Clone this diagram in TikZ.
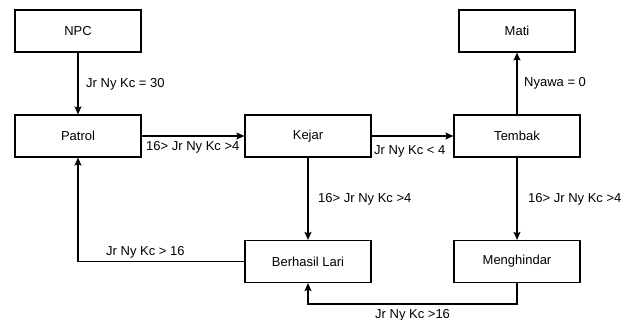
\documentclass[tikz,border=0pt]{standalone}
\usepackage{fontspec}
\setmainfont{Liberation Sans}
\usetikzlibrary{arrows.meta}
\tikzset{
  keadaan/.style={draw, line width=1.2pt, minimum width=126pt, minimum height=42pt, inner sep=0pt, font=\fontsize{13}{15}\selectfont},
  syarat/.style={inner sep=0pt, anchor=west, font=\fontsize{13}{15}\selectfont},
  alur/.style={line width=1.2pt, -{Stealth[length=8pt,width=7pt,inset=1.5pt]}}
}
\begin{document}
\begin{tikzpicture}[x=1pt, y=1pt]
			\useasboundingbox (0,0) rectangle (631,-320);
			%states
			\node[keadaan] (npc) at (78,-31){NPC};
			\node[keadaan] (patrol) at (78,-136){Patrol};
			\node[keadaan] (kejar) at (308,-136){Kejar};
			\node[keadaan] (tembak) at (517,-136){Tembak};
			\node[keadaan, minimum width=116pt] (mati) at (517,-31){Mati};
			\node[keadaan] (lari) at (308,-261.5){Berhasil Lari};
			\node[keadaan] (hindar) at (517,-261.5){Menghindar};
			\coordinate (bawah) at (517,-304);
			
			%transitions
			\draw[alur] (npc) -- (patrol);
			\draw[alur] (patrol) -- (kejar);
			\draw[alur] (kejar) -- (tembak);
			\draw[alur] (tembak) -- (mati);
			\draw[alur] (kejar) -- (lari);
			\draw[alur] (tembak) -- (hindar);
			\draw[alur] (lari.west) -| (patrol.south);
			\draw[alur] (hindar.south) -- (bawah) -| (lari.south);
			
			%conditions
			\node[syarat] (s1) at (86,-84){Jr Ny Kc = 30};
			\node[syarat] (s2) at (146,-147){16> Jr Ny Kc >4};
			\node[syarat] (s3) at (374,-151){Jr Ny Kc < 4};
			\node[syarat] (s4) at (524,-83){Nyawa = 0};
			\node[syarat] (s5) at (318,-199){16> Jr Ny Kc >4};
			\node[syarat] (s6) at (528,-199){16> Jr Ny Kc >4};
			\node[syarat] (s7) at (106,-252){Jr Ny Kc > 16};
			\node[syarat] (s8) at (375,-315){Jr Ny Kc >16};
\end{tikzpicture}
\end{document}
